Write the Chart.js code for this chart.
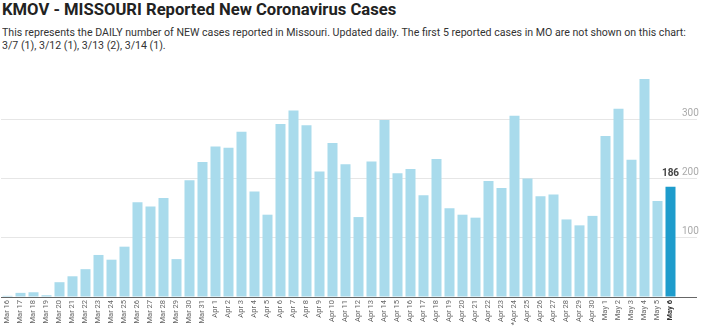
<!DOCTYPE html>
<html>
<head>
<meta charset="utf-8">
<script src="https://cdn.jsdelivr.net/npm/chart.js@4.4.0/dist/chart.umd.min.js"></script>
<style>
body { margin: 0; background: #fff; width: 706px; height: 327px; overflow: hidden; position: relative; font-family: Roboto, sans-serif; }
.fit { position: absolute; left: 2px; margin: 0; white-space: nowrap; transform-origin: 0 0; }
#title { top: 1px; font-size: 17px; line-height: 17px; font-weight: bold; color: #222; }
#sub1 { top: 26px; font-size: 10px; line-height: 13px; color: #333; }
#sub2 { top: 39px; font-size: 10px; line-height: 13px; color: #333; }
#wrap { position: absolute; left: 0; top: 72px; width: 706px; height: 255px; }
</style>
</head>
<body>
<div class="fit" id="title">KMOV - MISSOURI Reported New Coronavirus Cases</div>
<div class="fit" id="sub1">This represents the DAILY number of NEW cases reported in Missouri. Updated daily. The first 5 reported cases in MO are not shown on this chart:</div>
<div class="fit" id="sub2">3/7 (1), 3/12 (1), 3/13 (2), 3/14 (1).</div>
<div id="wrap"><canvas id="casesChart"></canvas></div>
<script>
const days = [
    'Mar 16', 'Mar 17', 'Mar 18', 'Mar 19', 'Mar 20', 'Mar 21', 'Mar 22', 'Mar 23',
    'Mar 24', 'Mar 25', 'Mar 26', 'Mar 27', 'Mar 28', 'Mar 29', 'Mar 30', 'Mar 31',
    'Apr 1', 'Apr 2', 'Apr 3', 'Apr 4', 'Apr 5', 'Apr 6', 'Apr 7', 'Apr 8', 'Apr 9', 'Apr 10',
    'Apr 11', 'Apr 12', 'Apr 13', 'Apr 14', 'Apr 15', 'Apr 16', 'Apr 17', 'Apr 18', 'Apr 19', 'Apr 20',
    'Apr 21', 'Apr 22', 'Apr 23', '*Apr 24', 'Apr 25', 'Apr 26', 'Apr 27', 'Apr 28', 'Apr 29', 'Apr 30',
    'May 1', 'May 2', 'May 3', 'May 4', 'May 5', 'May 6'
];

const newCases = [
    2, 7, 8, 3, 25, 35, 47, 71, 63, 85, 160, 153, 167, 64, 197, 228,
    254, 252, 279, 178, 139, 292, 315, 290, 212, 260, 224, 135, 229, 299,
    209, 216, 172, 233, 150, 139, 134, 196, 184, 306, 200, 170, 173, 131, 121, 137,
    272, 318, 232, 368, 162, 186
];

const yTicks = [100, 200, 300];

const lastIdx = newCases.length - 1;

// squeeze the heading text into a condensed look
function squeeze(el, target) {
    const k = target / el.scrollWidth;
    el.style.transform = 'scaleX(' + k + ')';
    return k;
}
squeeze(document.getElementById('title'), 394);
const k = squeeze(document.getElementById('sub1'), 684);
document.getElementById('sub2').style.transform = 'scaleX(' + k + ')';

// print the latest day's count above its bar
const latestLabel = {
    id: 'latestLabel',
    afterDatasetsDraw(chart) {
        const bar = chart.getDatasetMeta(0).data[lastIdx];
        const c = chart.ctx;
        c.save();
        c.font = 'bold 10px Roboto';
        c.fillStyle = '#444';
        c.textAlign = 'center';
        c.textBaseline = 'bottom';
        c.fillText(newCases[lastIdx], bar.x, bar.y - 8);
        c.restore();
    }
};

const ctx = document.getElementById('casesChart').getContext('2d');
new Chart(ctx, {
    type: 'bar',
    data: {
        labels: days,
        datasets: [{
            data: newCases,
            backgroundColor: c => c.dataIndex === lastIdx ? '#1e9ccc' : '#a9dbec',
            barPercentage: 0.77,
            categoryPercentage: 1
        }]
    },
    options: {
        responsive: true,
        maintainAspectRatio: false,
        animation: false,
        layout: { padding: { left: 1 } },
        plugins: {
            legend: { display: false },
            tooltip: { enabled: false }
        },
        scales: {
            x: {
                grid: { display: false, drawTicks: false },
                border: { display: false },
                ticks: {
                    autoSkip: false,
                    minRotation: 90,
                    maxRotation: 90,
                    padding: 3,
                    color: c => c.index === lastIdx ? '#333' : '#666',
                    font: c => ({ family: 'Roboto', size: 7.5, weight: c.index === lastIdx ? 'bold' : 'normal' })
                },
                afterFit: s => { s.height = 30; }
            },
            y: {
                position: 'right',
                min: 0,
                max: 380,
                border: { display: false },
                grid: {
                    color: c => c.tick.value === 0 ? '#666' : '#e6e6e6',
                    tickLength: 20
                },
                afterBuildTicks: s => { s.ticks = [0, ...yTicks].map(v => ({ value: v })); },
                ticks: {
                    padding: -15,
                    labelOffset: -6,
                    color: '#aaa',
                    font: { family: 'Roboto', size: 10 },
                    callback: v => v === 0 ? '' : v
                },
                afterFit: s => { s.width = 29; }
            }
        }
    },
    plugins: [latestLabel]
});
</script>
</body>
</html>
